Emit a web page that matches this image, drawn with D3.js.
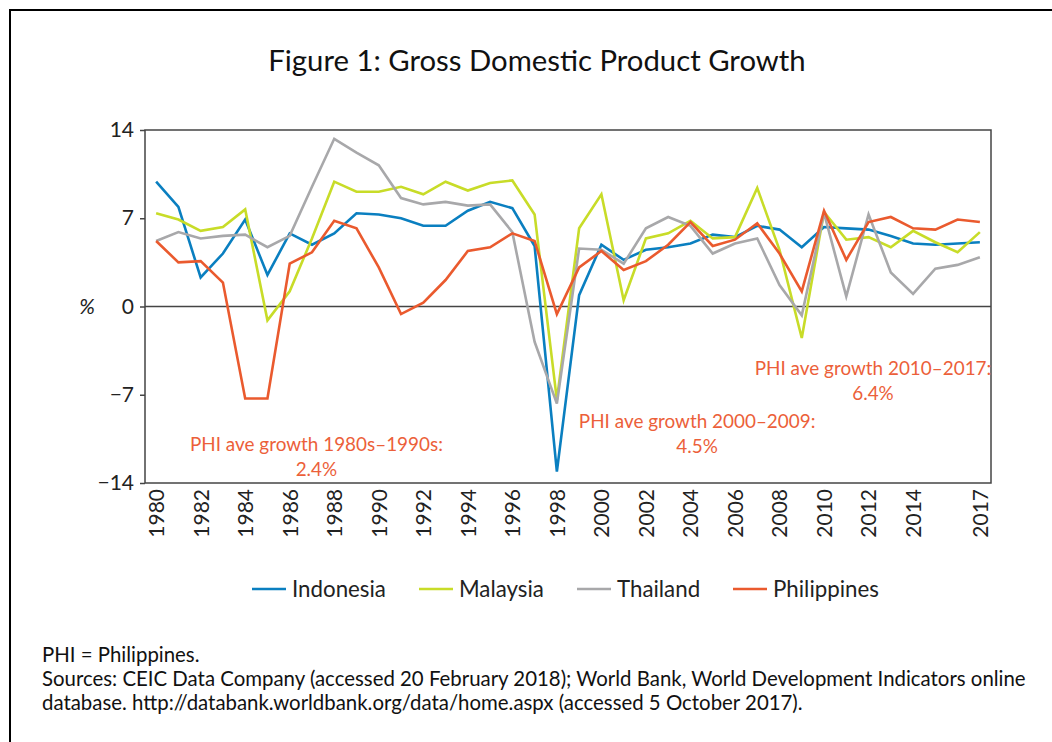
<!DOCTYPE html>
<html>
<head>
<meta charset="utf-8">
<script src="https://cdn.jsdelivr.net/npm/d3@7"></script>
<style>
  body { margin: 0; background: #fff; }
  svg { display: block; font-family: Lato, "Open Sans", sans-serif; }
</style>
</head>
<body>
<svg id="chart" width="1052" height="742"></svg>
<script>
// GDP growth, %
const years = d3.range(1980, 2018);
const indonesia = [9.9, 7.9, 2.3, 4.2, 6.9, 2.5, 5.8, 4.9, 5.8, 7.4, 7.3, 7.0, 6.4, 6.4, 7.6, 8.3, 7.8, 4.8, -13.1, 0.9, 4.9, 3.7, 4.5, 4.7, 5.0, 5.7, 5.5, 6.4, 6.1, 4.7, 6.3, 6.2, 6.1, 5.6, 5.0, 4.9, 5.0, 5.1];
const malaysia = [7.4, 6.9, 6.0, 6.3, 7.7, -1.1, 1.2, 5.4, 9.9, 9.1, 9.1, 9.5, 8.9, 9.9, 9.2, 9.8, 10.0, 7.3, -7.4, 6.2, 8.9, 0.5, 5.4, 5.8, 6.8, 5.4, 5.5, 9.4, 4.5, -2.5, 7.5, 5.3, 5.5, 4.7, 6.0, 5.1, 4.3, 5.9];
const thailand = [5.2, 5.9, 5.4, 5.6, 5.7, 4.7, 5.6, 9.5, 13.3, 12.2, 11.2, 8.6, 8.1, 8.3, 8.0, 8.1, 5.9, -2.8, -7.7, 4.6, 4.5, 3.4, 6.2, 7.1, 6.4, 4.2, 5.0, 5.4, 1.7, -0.7, 7.4, 0.8, 7.3, 2.7, 1.0, 3.0, 3.3, 3.9];
const philippines = [5.2, 3.5, 3.6, 1.9, -7.3, -7.3, 3.4, 4.3, 6.8, 6.2, 3.1, -0.6, 0.3, 2.1, 4.4, 4.7, 5.8, 5.2, -0.6, 3.1, 4.4, 2.9, 3.6, 4.9, 6.7, 4.8, 5.3, 6.6, 4.2, 1.2, 7.6, 3.7, 6.7, 7.1, 6.2, 6.1, 6.9, 6.7];

const seriesNames = ['Indonesia', 'Malaysia', 'Thailand', 'Philippines'];
const seriesColors = ['#0a7fc0', '#c8dc28', '#a8a8aa', '#ea5a2e'];
const seriesValues = [indonesia, malaysia, thailand, philippines];

const yTicks = [14, 7, 0, -7, -14];
const xTickYears = [1980, 1982, 1984, 1986, 1988, 1990, 1992, 1994, 1996, 1998, 2000, 2002, 2004, 2006, 2008, 2010, 2012, 2014, 2017];

const notes = [
  { lines: ['PHI ave growth 1980s\u20131990s:', '2.4%'], year: 1987.2, value: -11.5 },
  { lines: ['PHI ave growth 2000\u20132009:', '4.5%'], year: 2004.3, value: -9.6 },
  { lines: ['PHI ave growth 2010\u20132017:', '6.4%'], year: 2012.2, value: -5.4 }
];

const svg = d3.select('#chart');
const plot = { left: 145, right: 991, top: 130, bottom: 483 };

// frame around the whole figure
svg.append('rect')
  .attr('x', 10).attr('y', 10)
  .attr('width', 1100).attr('height', 800)
  .attr('fill', 'none').attr('stroke', '#000').attr('stroke-width', 2);

svg.append('text')
  .attr('x', 537).attr('y', 71)
  .attr('text-anchor', 'middle')
  .attr('fill', '#111')
  .style('font-size', '29.3px')
  .text('Figure 1: Gross Domestic Product Growth');

const x = d3.scaleLinear().domain([1979.5, 2017.5]).range([plot.left, plot.right]);
const y = d3.scaleLinear().domain([-14, 14]).range([plot.bottom, plot.top]);

// plot box
svg.append('rect')
  .attr('x', plot.left).attr('y', plot.top)
  .attr('width', plot.right - plot.left).attr('height', plot.bottom - plot.top)
  .attr('fill', 'none').attr('stroke', '#444').attr('stroke-width', 1.5);

svg.append('line')
  .attr('x1', plot.left).attr('x2', plot.right)
  .attr('y1', y(0)).attr('y2', y(0))
  .attr('stroke', '#444').attr('stroke-width', 1.5);

const yAxis = svg.append('g')
  .attr('transform', `translate(${plot.left},0)`)
  .call(d3.axisLeft(y).tickValues(yTicks).tickSize(5).tickPadding(6)
    .tickFormat(d => d < 0 ? '\u2212' + Math.abs(d) : d));
yAxis.select('.domain').remove();
yAxis.selectAll('line').attr('stroke', '#444').attr('stroke-width', 1.5);
yAxis.selectAll('text').attr('fill', '#222').style('font-size', '21px')
  .style('font-family', 'Lato, sans-serif');

svg.append('text')
  .attr('x', 87).attr('y', y(0) + 7)
  .attr('text-anchor', 'middle')
  .attr('fill', '#222')
  .style('font-size', '21px').style('font-style', 'italic')
  .text('%');

const xAxis = svg.append('g')
  .attr('transform', `translate(0,${plot.bottom})`)
  .call(d3.axisBottom(x).tickValues(xTickYears).tickSize(0).tickFormat(d3.format('d')));
xAxis.select('.domain').remove();
xAxis.selectAll('text')
  .attr('fill', '#222')
  .style('font-size', '21px')
  .style('font-family', 'Lato, sans-serif')
  .attr('text-anchor', 'end')
  .attr('dy', '0.35em')
  .attr('transform', 'translate(0,4) rotate(-90)')
  .attr('x', -2).attr('y', 0);

const line = d3.line()
  .x((d, i) => x(years[i]))
  .y(d => y(d));

svg.append('g')
  .selectAll('path')
  .data(seriesValues)
  .enter().append('path')
  .attr('d', d => line(d))
  .attr('fill', 'none')
  .attr('stroke', (d, i) => seriesColors[i])
  .attr('stroke-width', 2.6)
  .attr('stroke-linejoin', 'miter');

// annotations
const noteG = svg.append('g')
  .selectAll('text')
  .data(notes)
  .enter().append('text')
  .attr('text-anchor', 'middle')
  .attr('fill', '#ec5f3a')
  .style('font-size', '18.9px');
noteG.each(function (d) {
  const t = d3.select(this);
  d.lines.forEach((s, k) => {
    t.append('tspan')
      .attr('x', x(d.year))
      .attr('y', y(d.value) + k * 25)
      .text(s);
  });
});

// legend
const legendX = [252, 419, 577, 733];
const legend = svg.append('g')
  .selectAll('g')
  .data(seriesNames)
  .enter().append('g')
  .attr('transform', (d, i) => `translate(${legendX[i]},589)`);
legend.append('line')
  .attr('x1', 0).attr('x2', 34)
  .attr('stroke', (d, i) => seriesColors[i])
  .attr('stroke-width', 2.6);
legend.append('text')
  .attr('x', 40).attr('y', 8)
  .attr('fill', '#222')
  .style('font-size', '22.3px')
  .text(d => d);

const footnotes = [
  'PHI = Philippines.',
  'Sources: CEIC Data Company (accessed 20 February 2018); World Bank, World Development Indicators online',
  'database. http://databank.worldbank.org/data/home.aspx (accessed 5 October 2017).'
];
svg.append('g')
  .selectAll('text')
  .data(footnotes)
  .enter().append('text')
  .attr('x', 42)
  .attr('y', (d, i) => 662 + i * 24)
  .attr('fill', '#111')
  .style('font-size', '20.4px')
  .text(d => d);
</script>
</body>
</html>
